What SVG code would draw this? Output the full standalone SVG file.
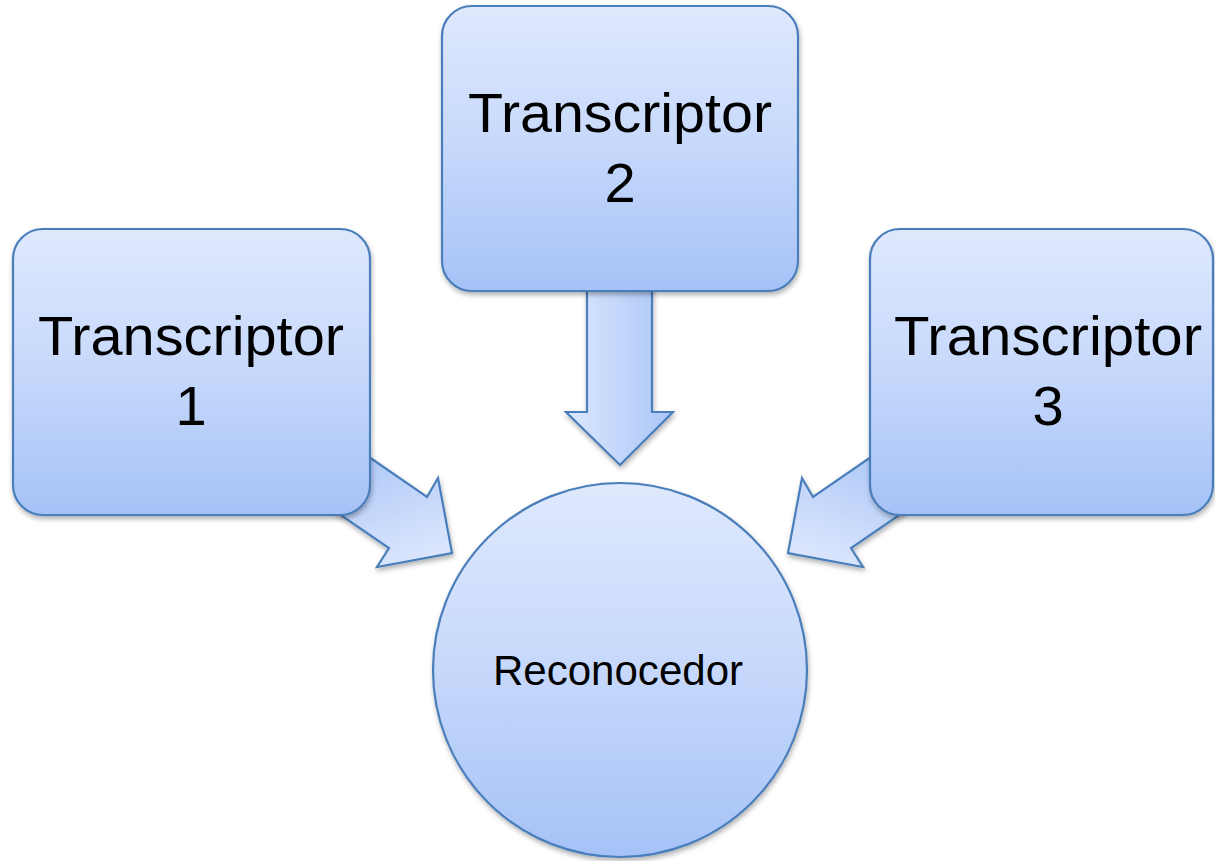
<svg xmlns="http://www.w3.org/2000/svg" width="1215" height="861" viewBox="0 0 1215 861">
<defs>
<linearGradient id="gV" x1="0" y1="0" x2="0" y2="1">
<stop offset="0" stop-color="#dfe9fd"/>
<stop offset="0.5" stop-color="#c6d8fb"/>
<stop offset="1" stop-color="#a5c2f7"/>
</linearGradient>
<linearGradient id="gH" x1="0" y1="0" x2="1" y2="0">
<stop offset="0" stop-color="#dce7fd"/>
<stop offset="1" stop-color="#aac6f8"/>
</linearGradient>
<linearGradient id="gL" gradientUnits="userSpaceOnUse" x1="380" y1="460" x2="420" y2="560">
<stop offset="0" stop-color="#b2cbf8"/>
<stop offset="1" stop-color="#dbe6fd"/>
</linearGradient>
<linearGradient id="gR" gradientUnits="userSpaceOnUse" x1="860" y1="460" x2="820" y2="560">
<stop offset="0" stop-color="#b2cbf8"/>
<stop offset="1" stop-color="#dbe6fd"/>
</linearGradient>
<filter id="sh" x="-10%" y="-10%" width="120%" height="120%">
<feDropShadow dx="1" dy="3" stdDeviation="2.5" flood-color="#000" flood-opacity="0.3"/>
</filter>
</defs>
<style>
.s{stroke:#4a7ebb;stroke-width:2.2;stroke-linejoin:miter}
.t{font-family:"Liberation Sans",Arial,sans-serif;fill:#000;text-anchor:middle}
.big{font-size:56px}
.small{font-size:42px}
</style>
<g id="connectors">
<path class="s" filter="url(#sh)" fill="url(#gH)" d="M587,285 L587,412 L566,412 L620,465 L673,412 L652,412 L652,285 Z"/>
<path class="s" filter="url(#sh)" fill="url(#gL)" d="M340,437 L427,497 L438,478 L452,553 L377,567 L389,548 L310,494 Z"/>
<path class="s" filter="url(#sh)" fill="url(#gR)" d="M900,437 L813,497 L802,478 L788,553 L863,567 L851,548 L930,494 Z"/>
</g>
<g id="transcriptor2">
<rect class="s" filter="url(#sh)" fill="url(#gV)" x="442" y="6" width="356" height="285" rx="30" ry="30"/>
<text class="t big" x="620" y="132" textLength="304" lengthAdjust="spacingAndGlyphs">Transcriptor</text>
<text class="t big" x="620" y="202">2</text>
</g>
<g id="transcriptor1">
<rect class="s" filter="url(#sh)" fill="url(#gV)" x="13" y="229" width="357" height="286" rx="30" ry="30"/>
<text class="t big" x="191" y="355" textLength="306" lengthAdjust="spacingAndGlyphs">Transcriptor</text>
<text class="t big" x="191" y="425">1</text>
</g>
<g id="transcriptor3">
<rect class="s" filter="url(#sh)" fill="url(#gV)" x="870" y="229" width="343" height="286" rx="30" ry="30"/>
<text class="t big" x="1048" y="355" textLength="308" lengthAdjust="spacingAndGlyphs">Transcriptor</text>
<text class="t big" x="1048" y="425">3</text>
</g>
<g id="reconocedor">
<circle class="s" filter="url(#sh)" fill="url(#gV)" cx="620" cy="670" r="187"/>
<text class="t small" x="618" y="685" textLength="250" lengthAdjust="spacingAndGlyphs">Reconocedor</text>
</g>
</svg>
